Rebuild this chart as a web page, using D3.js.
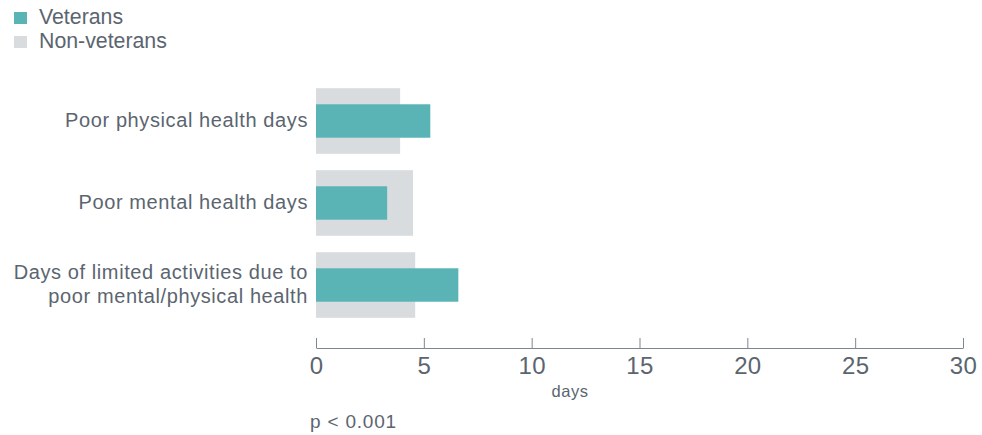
<!DOCTYPE html>
<html>
<head>
<meta charset="utf-8">
<script src="https://cdn.jsdelivr.net/npm/d3@7"></script>
<style>
  body { margin: 0; background: #fff; }
  text { font-family: "Helvetica Neue", "Liberation Sans", Arial, sans-serif; fill: #5b6570; }
</style>
</head>
<body>
<script>
// data
const categories = [
  ["Poor physical health days"],
  ["Poor mental health days"],
  ["Days of limited activities due to", "poor mental/physical health"]
];
const veterans = [5.3, 3.3, 6.6];
const nonVeterans = [3.9, 4.5, 4.6];
const xTicks = [0, 5, 10, 15, 20, 25, 30];

let width = 982, height = 435;
let margin = { left: 316, right: 19 };

let svg = d3.select('body').append('svg')
  .attr('width', width)
  .attr('height', height);

const xScale = d3.scaleLinear()
  .domain([0, 30])
  .range([margin.left, width - margin.right]);

const yScale = d3.scaleBand()
  .domain(d3.range(categories.length))
  .range([80, 326])
  .paddingInner(0.2)
  .paddingOuter(0.1);

// non-veteran bars (wide, grey)
svg.selectAll('.nonvet')
  .data(nonVeterans)
  .enter().append('rect')
  .attr('x', xScale(0))
  .attr('y', (d, i) => yScale(i))
  .attr('width', d => xScale(d) - xScale(0))
  .attr('height', yScale.bandwidth())
  .attr('fill', '#d9dcdf');

// veteran bars (narrow, teal)
const vetH = yScale.bandwidth() * 0.51;
svg.selectAll('.vet')
  .data(veterans)
  .enter().append('rect')
  .attr('x', xScale(0))
  .attr('y', (d, i) => yScale(i) + (yScale.bandwidth() - vetH) / 2)
  .attr('width', d => xScale(d) - xScale(0))
  .attr('height', vetH)
  .attr('fill', '#5ab4b5');

// category labels
categories.forEach((lines, i) => {
  const cy = yScale(i) + yScale.bandwidth() / 2;
  const t = svg.append('text')
    .attr('text-anchor', 'end')
    .style('font-size', '20px')
    .style('letter-spacing', '0.6px');
  lines.forEach((ln, j) => {
    t.append('tspan')
      .attr('x', 308)
      .attr('y', cy + 6 + (j - (lines.length - 1) / 2) * 24)
      .text(ln);
  });
});

// x axis
let xAxis = svg.append('g')
  .attr('transform', 'translate(0, 348)')
  .call(d3.axisBottom(xScale).tickValues(xTicks).tickSizeInner(-10).tickSizeOuter(0).tickPadding(9));
xAxis.select('.domain').attr('stroke', '#7d8791');
xAxis.selectAll('.tick line').attr('stroke', '#7d8791');
xAxis.selectAll('.tick text')
  .style('font-size', '24px')
  .style('letter-spacing', '0.3px')
  .attr('fill', '#5b6570')
  .attr('font-family', '"Helvetica Neue", "Liberation Sans", Arial, sans-serif');

svg.append('text')
  .attr('x', 570)
  .attr('y', 397)
  .attr('text-anchor', 'middle')
  .style('font-size', '16.5px')
  .style('letter-spacing', '0.5px')
  .text('days');

svg.append('text')
  .attr('x', 310)
  .attr('y', 428)
  .style('font-size', '19px')
  .style('letter-spacing', '0.8px')
  .text('p < 0.001');

// legend
const legendItems = [["Veterans", "#5ab4b5"], ["Non-veterans", "#d9dcdf"]];
const legend = svg.selectAll('.legend')
  .data(legendItems)
  .enter().append('g')
  .attr('class', 'legend')
  .attr('transform', (d, i) => 'translate(14,' + (12 + i * 24) + ')');
legend.append('rect')
  .attr('width', 13).attr('height', 12)
  .attr('fill', d => d[1]);
legend.append('text')
  .attr('x', 25)
  .attr('y', 11.5)
  .style('font-size', '21.3px')
  .text(d => d[0]);
</script>
</body>
</html>
